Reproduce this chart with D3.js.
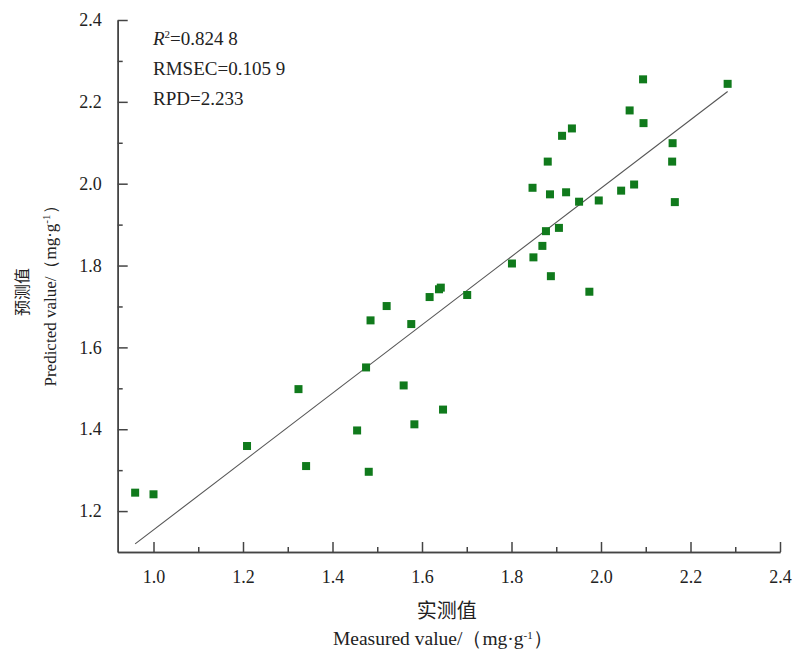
<!DOCTYPE html>
<html>
<head>
<meta charset="utf-8">
<script src="https://cdn.jsdelivr.net/npm/d3@7/dist/d3.min.js"></script>
<style>
  html, body { margin: 0; padding: 0; background: #fff; }
  svg text { font-family: "Liberation Serif", "DejaVu Serif", serif; fill: #222; }
  .cjk { font-family: "Noto Sans CJK SC", sans-serif; }
</style>
</head>
<body>
<div id="chart"></div>
<script>
// measured vs predicted values (mg/g)
const measured = [0.959, 1.000, 1.209, 1.324, 1.341, 1.455, 1.481, 1.475, 1.485, 1.521,
  1.559, 1.576, 1.583, 1.617, 1.638, 1.642, 1.647, 1.701, 1.801, 1.849,
  1.869, 1.877, 1.906, 1.888, 1.974, 1.847, 1.886, 1.922, 1.951, 1.995,
  2.045, 2.074, 1.881, 1.913, 1.935, 2.064, 2.095, 2.094, 2.160, 2.159,
  2.165, 2.283];
const predicted = [1.245, 1.241, 1.359, 1.498, 1.310, 1.397, 1.296, 1.551, 1.666, 1.701,
  1.507, 1.657, 1.412, 1.723, 1.742, 1.746, 1.448, 1.728, 1.805, 1.820,
  1.848, 1.884, 1.892, 1.774, 1.736, 1.990, 1.974, 1.979, 1.956, 1.959,
  1.983, 1.998, 2.054, 2.117, 2.135, 2.179, 2.148, 2.255, 2.099, 2.054,
  1.955, 2.244];

// fitted line y = slope * x + intercept, drawn over the measured range
const fitSlope = 0.835;
const fitIntercept = 0.319;
const fitRange = [0.959, 2.283];

const xMajor = [1.0, 1.2, 1.4, 1.6, 1.8, 2.0, 2.2, 2.4];
const xMinor = [1.1, 1.3, 1.5, 1.7, 1.9, 2.1, 2.3];
const yMajor = [1.2, 1.4, 1.6, 1.8, 2.0, 2.2, 2.4];
const yMinor = [1.3, 1.5, 1.7, 1.9, 2.1, 2.3];

const width = 793;
const height = 653;
const plot = { left: 117.7, right: 780, top: 20, bottom: 552 };

const svg = d3.select('#chart').append('svg')
  .attr('width', width)
  .attr('height', height);

const x = d3.scaleLinear().domain([0.92, 2.4]).range([plot.left, plot.right]);
const y = d3.scaleLinear().domain([1.1, 2.4]).range([plot.bottom, plot.top]);
const fmt = d3.format('.1f');

// axes: ticks point inward
svg.append('g')
  .attr('transform', `translate(0,${plot.bottom})`)
  .call(d3.axisBottom(x).tickValues(xMajor).tickFormat(fmt).tickSizeInner(-10).tickSizeOuter(0).tickPadding(18));
svg.append('g')
  .attr('transform', `translate(0,${plot.bottom})`)
  .call(d3.axisBottom(x).tickValues(xMinor).tickFormat('').tickSizeInner(-5).tickSizeOuter(0));

svg.append('g')
  .attr('transform', `translate(${plot.left},0)`)
  .call(d3.axisLeft(y).tickValues(yMajor).tickFormat(fmt).tickSizeInner(-10).tickSizeOuter(0).tickPadding(16));
svg.append('g')
  .attr('transform', `translate(${plot.left},0)`)
  .call(d3.axisLeft(y).tickValues(yMinor).tickFormat('').tickSizeInner(-5).tickSizeOuter(0));

svg.selectAll('.domain, .tick line')
  .attr('stroke', '#444')
  .attr('stroke-width', 1.5);
svg.selectAll('.tick text')
  .style('font-size', '18px')
  .style('font-family', '"Liberation Serif", serif')
  .attr('fill', '#222');

// regression line
svg.append('line')
  .attr('x1', x(fitRange[0]))
  .attr('y1', y(fitSlope * fitRange[0] + fitIntercept))
  .attr('x2', x(fitRange[1]))
  .attr('y2', y(fitSlope * fitRange[1] + fitIntercept))
  .attr('stroke', '#555')
  .attr('stroke-width', 1.1);

// points
const size = 8;
svg.append('g')
  .selectAll('rect')
  .data(measured.map((m, i) => [m, predicted[i]]))
  .enter()
  .append('rect')
  .attr('x', d => x(d[0]) - size / 2)
  .attr('y', d => y(d[1]) - size / 2)
  .attr('width', size)
  .attr('height', size)
  .attr('fill', '#107a1c');

// stats block
const stats = svg.append('g').style('font-size', '19px');
const r2 = stats.append('text').attr('x', 153).attr('y', 45);
r2.append('tspan').style('font-style', 'italic').text('R');
r2.append('tspan').attr('dy', -7).style('font-size', '11px').text('2');
r2.append('tspan').attr('dy', 7).text('=0.824 8');
stats.append('text').attr('x', 153).attr('y', 75).text('RMSEC=0.105 9');
stats.append('text').attr('x', 153).attr('y', 105).text('RPD=2.233');

// axis titles
const cx = (plot.left + plot.right) / 2;
svg.append('text')
  .attr('class', 'cjk')
  .attr('x', cx - 2).attr('y', 618)
  .attr('text-anchor', 'middle')
  .style('font-size', '20px')
  .text('实测值');

function unitLabel(sel, prefix) {
  sel.append('tspan').text(prefix + '/（mg·g');
  sel.append('tspan').attr('dy', -6).style('font-size', '11px').text('-1');
  sel.append('tspan').attr('dy', 6).text('）');
}

const xt = svg.append('text')
  .attr('x', cx - 6).attr('y', 645)
  .attr('text-anchor', 'middle')
  .style('font-size', '19.5px');
unitLabel(xt, 'Measured value');

const cy = (plot.top + plot.bottom) / 2 + 6;
svg.append('text')
  .attr('class', 'cjk')
  .attr('transform', `translate(28,${cy}) rotate(-90)`)
  .attr('text-anchor', 'middle')
  .style('font-size', '16px')
  .text('预测值');

const yt = svg.append('text')
  .attr('transform', `translate(56,${cy}) rotate(-90)`)
  .attr('text-anchor', 'middle')
  .style('font-size', '17px');
unitLabel(yt, 'Predicted value');
</script>
</body>
</html>
